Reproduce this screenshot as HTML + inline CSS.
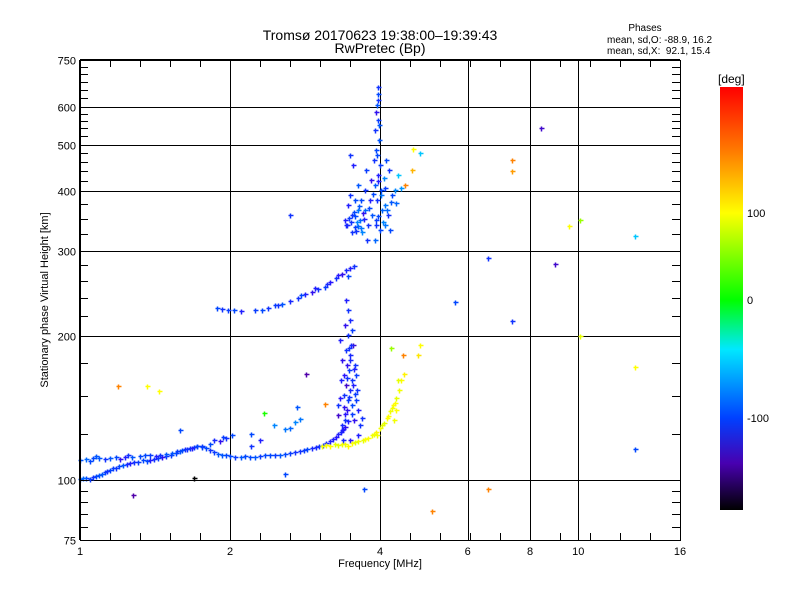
<!DOCTYPE html>
<html><head><meta charset="utf-8"><style>
body{margin:0;background:#fff;}
svg text{font-family:"Liberation Sans",sans-serif;fill:#000;}
</style></head><body>
<svg id="chart" width="800" height="600" viewBox="0 0 800 600" xmlns="http://www.w3.org/2000/svg">
<defs>
<linearGradient id="cbg" x1="0" y1="0" x2="0" y2="1">
<stop offset="0" stop-color="#ff0000"/><stop offset="0.15" stop-color="#ff7a00"/>
<stop offset="0.298" stop-color="#ffff00"/><stop offset="0.504" stop-color="#00ff00"/>
<stop offset="0.62" stop-color="#00e8ff"/><stop offset="0.783" stop-color="#0040ff"/>
<stop offset="0.89" stop-color="#4800b0"/><stop offset="1" stop-color="#000000"/>
</linearGradient>
</defs>
<rect x="0" y="0" width="800" height="600" fill="#fff"/>
<text x="380" y="40" font-size="14" text-anchor="middle">Tromsø 20170623 19:38:00–19:39:43</text>
<text x="380" y="53" font-size="14" text-anchor="middle">RwPretec (Bp)</text>
<text x="645" y="31" font-size="10" text-anchor="middle">Phases</text>
<text x="607" y="43" font-size="10">mean, sd,O: -88.9, 16.2</text>
<text x="607" y="54" font-size="10" xml:space="preserve">mean, sd,X:  92.1, 15.4</text>
<g id="grid"></g>
<g id="marks"></g>
<rect x="80.5" y="60.5" width="600" height="480" fill="none" stroke="#000" stroke-width="1"/>
<line x1="80" y1="60" x2="680" y2="60" stroke="#000" stroke-width="2"/>
<line x1="80" y1="60" x2="80" y2="540" stroke="#000" stroke-width="2"/>
<g id="ticks"></g>
<text transform="translate(48,300) rotate(-90)" font-size="11" text-anchor="middle">Stationary phase Virtual Height [km]</text>
<text x="380" y="567" font-size="11" text-anchor="middle">Frequency [MHz]</text>
<rect x="720" y="87" width="23" height="423" fill="url(#cbg)"/>
<text x="718" y="83" font-size="12">[deg]</text>
<text x="747" y="217" font-size="11">100</text>
<text x="747" y="304" font-size="11">0</text>
<text x="747" y="422" font-size="11">-100</text>
</svg>
<script>
// ---- data ----
const xTicks=[1,2,4,6,8,10,16];
const xTickLabels=["1","2","4","6","8","10","16"];
const xGrid=[2,4,6,8,10];
const yTicks=[75,100,200,300,400,500,600,750];
const yMinor=[80,85,90,95,125,150,175,220,240,260,280,325,350,375,420,440,460,480,520,540,560,580,625,650,675,700,725];
// lower trace (O)
const lowF=[1.00,1.03,1.06,1.09,1.12,1.15,1.18,1.22,1.26,1.31,1.36,1.41,1.46,1.52,1.59,1.66,1.72,1.79,1.86,1.93,2.0,2.1,2.19,2.3,2.41,2.52,2.64,2.76,2.86,2.97,3.07,3.17,3.26,3.34,3.40,3.45];
const lowH=[100.5,101,101.5,102.5,104,105,106,107.5,108.5,109,109.5,110.5,111.5,112.5,115,116.5,117.5,116.5,114.5,113,112,111.5,111.5,112,112.5,113,114,115,116,117,118.5,120.5,123,126,129,133];
const lowP=[-95,-100,-110,-95,-105,-100,-110,-95,-120,-105,-100,-110,-130,-105,-95,-110,-120,-100,-105,-95,-100,-95,-100,-105,-100,-95,-105,-110,-100,-115,-110,-120,-125,-115,-130,-120];
const low2F=[1.015,1.045,1.075,1.105,1.135,1.165,1.20,1.24,1.285,1.335,1.385,1.435,1.49,1.555,1.625,1.69,1.755,1.825,1.895,1.965,2.05,2.145,2.245,2.355,2.465,2.58,2.70,2.81,2.915,3.02,3.12,3.22,3.30,3.37];
const low2H=[101,100.5,102,103,104.5,106,107,108,109,110,110,111,112,114,116,117,117,115.5,113.5,112.5,111.5,112,111.5,112.5,113,113.5,114.5,115.5,116.5,118,119.5,122,124.5,127.5];
const low2P=[-90,-105,-100,-95,-110,-105,-100,-115,-110,-100,-120,-105,-110,-100,-115,-105,-100,-110,-95,-100,-105,-100,-95,-100,-105,-100,-110,-105,-115,-110,-115,-120,-120,-125];
// upper early trace
const upF=[1.0,1.03,1.06,1.09,1.12,1.15,1.18,1.23,1.27,1.32,1.38,1.45,1.53,1.6,1.68,1.76,1.82,1.91,1.96,2.02,2.58,2.64,2.7,2.76,2.2,2.3,1.045,1.075,1.205,1.25,1.35,1.42,1.49,1.565,1.64,1.72,1.86,1.94];
const upH=[110,110.5,111,111,110.5,111,111.5,111.5,111.5,112,112.5,113,114,115.5,116.5,117.5,119,120.5,122.5,124,127.5,128.5,132,134,118,121,109.5,112,110.5,112.5,113,112,113.5,115,116,118,121,123];
const upP=[-95,-90,-100,-95,-110,-95,-100,-120,-95,-100,-105,-110,-95,-100,-120,-105,-100,-130,-110,-100,-85,-90,-80,-85,-110,-120,-100,-95,-130,-110,-100,-120,-95,-105,-110,-100,-115,-105];
// cusp near 3.5 MHz
const cuspF=[3.35,3.40,3.44,3.45,3.48,3.42,3.51,3.39,3.47,3.56,3.35,3.48,3.42,3.53,3.32,3.45,3.51,3.40,3.48,3.45,3.42,3.29,3.58,3.61,3.55,3.64,3.37,3.48,3.30,3.60,3.58,3.34,3.44,3.50,3.39,3.51,3.61,3.68,3.36,3.41,3.46,3.53,3.57,3.38,3.43,3.49,3.55,3.33,3.47,3.52];
const cuspH=[127.1,133.4,140,146.8,154,157.7,161.6,165.5,169.5,173.5,177.8,182,186.6,191,195.8,200.5,205.4,210.4,215.5,226,237,143.3,146.8,140,133.4,130.2,121.2,121.2,136.7,154,165.5,161.6,173.5,191,150.4,143.3,124.1,134.8,130,137,149,158,151,142,163,178,170,148,188,137];
const cuspP=[-120,-110,-130,-105,-115,-140,-110,-125,-105,-110,-130,-115,-110,-140,-120,-110,-105,-130,-115,-110,-120,-110,-105,-120,-130,-110,-115,-125,-140,-110,-105,-120,-130,-115,-110,-100,-120,-110,-115,-125,-110,-120,-105,-130,-110,-115,-120,-125,-110,-105];
// spread F trace
const sfF=[1.88,1.93,1.98,2.04,2.1,2.32,2.38,2.46,2.54,2.64,2.74,2.83,2.92,3.0,3.1,3.17,3.26,3.36,3.42,3.48,3.55,3.45,2.25,2.50,2.78,2.96,3.13,3.30];
const sfH=[228,227,226,226,225,226,228,231,233,236,240,244,246,250,253,258,264,269,274,277,279,266,226,232,243,251,256,267];
const sfP=[-100,-110,-105,-100,-120,-100,-110,-105,-95,-115,-110,-120,-130,-110,-105,-125,-110,-130,-115,-120,-110,-100,-105,-110,-100,-120,-115,-125];
// vertical line at 4 MHz
const vertF=[3.97,3.97,3.95,3.93,3.97,3.91,3.98,3.93,3.89,4.0,3.97,3.91,4.02,3.95,4.04,3.93,4.0,3.96,3.99,3.94,3.97,4.01,3.96,3.92];
const vertH=[658,637,604,584,562,536,511,487,464,453,432,412,402,383,365,348,332,620,548,475,420,392,355,340];
const vertP=[-110,-100,-95,-130,-105,-110,-95,-100,-110,-105,-120,-95,-100,-110,-90,-105,-100,-110,-95,-100,-120,-85,-100,-110];
// cluster 320-480 km
const clF=[3.48,3.56,3.45,3.61,3.51,3.64,3.44,3.56,3.68,3.78,3.85,4.10,4.15,4.23,4.29,4.10,3.82,3.73,3.61,4.10,4.19,3.51,3.40,3.73,3.83,4.08,4.17,4.12,4.35,4.41,4.31,3.75,3.48,3.53,3.66,3.91,3.76,3.60,3.70,3.88,3.42,3.47,3.54,3.58,3.63,3.67,3.71,3.80,4.05,4.13,4.21,3.50,3.57,3.62];
const clH=[392,383,374,365,356,348,340,336,328,340,356,374,356,392,402,406,383,402,412,340,332,328,348,365,421.7,426,442.5,464,432,406,377,442.5,475,453,383,316,316,345,360,395,340,352,362,330,372,335,350,368,345,365,380,345,355,338];
const clP=[-110,-100,-120,-85,-110,-90,-115,-105,-80,-110,-95,-85,-110,-100,-80,-105,-120,-110,-95,-85,-100,-110,-120,-90,-130,-80,-110,-100,-60,-75,-90,-105,-110,-120,-100,-90,-110,-80,-130,-100,-115,-105,-100,-110,-95,-85,-120,-100,-80,-90,-95,-110,-100,-90];
// yellow X trace
const yelF=[3.06,3.17,3.29,3.40,3.51,3.61,3.70,3.78,3.85,3.93,4.0,4.08,4.13,4.19,4.25,4.31,4.37,4.41,4.47,4.35,4.27,4.31,3.25,3.45,3.95,3.12,3.35,3.56,3.74,3.89,4.04,4.16,4.22,4.29];
const yelH=[117.8,117.8,118.4,118.9,119.5,120.6,121.2,122.4,124.1,126,128.3,131.4,134.8,139.3,143.3,148.3,154,161.6,166.5,161.6,133.4,140,118.9,118,124,118.5,119,120,121.8,125,130,136,141,145];
const yelP=[95,100,90,95,100,95,90,100,95,105,95,90,100,95,100,90,95,100,105,90,95,100,90,100,95,100,95,90,100,95,90,100,95,100];
// scattered outliers
const scF=[8.4,7.35,7.35,9.6,10.1,13,6.6,9.0,5.66,7.35,10.1,13,13,6.6,5.08,1.28,1.69,1.36,1.44,1.19,2.64,2.58,3.71,2.34,2.73,2.84,3.1,1.59,4.66,4.5,4.63,4.82,4.82,4.77,4.45,4.2,2.2,2.45];
const scH=[540,464,440,338,348,323,290,282,235,214,200,172,116,96,86,93,101,157,153,157,357,103,96,138,142,166,144,127,490,412,442,480,191,182,182,188,125,130];
const scP=[-140,150,140,100,60,-60,-110,-140,-100,-110,90,100,-100,150,150,-150,-190,100,100,150,-110,-100,-100,10,-95,-150,150,-100,100,150,130,-60,100,110,150,60,-100,-80];

// ---- scales ----
const X0=80,X1=680,Y0=540,Y1=60;
function xs(f){return X0+(X1-X0)*Math.log2(f)/4;}
function ys(h){return Y0-(Y0-Y1)*Math.log10(h/75);}
const cStops=[[-190,[0,0,0]],[-150,[80,0,170]],[-125,[40,20,255]],[-100,[0,70,255]],[-75,[0,150,255]],[-50,[0,230,255]],[0,[0,255,0]],[100,[255,255,0]],[150,[255,130,0]],[223,[255,0,0]]];
function col(p){
  if(p<=cStops[0][0])return "rgb(0,0,0)";
  for(let i=1;i<cStops.length;i++){
    if(p<=cStops[i][0]){const a=cStops[i-1],b=cStops[i];const t=(p-a[0])/(b[0]-a[0]);
      const c=a[1].map((v,k)=>Math.round(v+(b[1][k]-v)*t));return `rgb(${c[0]},${c[1]},${c[2]})`;}
  }
  return "rgb(255,0,0)";
}
const NS="http://www.w3.org/2000/svg";
const grid=document.getElementById('grid'),ticks=document.getElementById('ticks'),marks=document.getElementById('marks');
function line(par,x1,y1,x2,y2){const l=document.createElementNS(NS,'line');l.setAttribute('x1',x1);l.setAttribute('y1',y1);l.setAttribute('x2',x2);l.setAttribute('y2',y2);l.setAttribute('stroke','#000');l.setAttribute('stroke-width','1');par.appendChild(l);return l;}
function txt(par,x,y,s,anchor){const t=document.createElementNS(NS,'text');t.setAttribute('x',x);t.setAttribute('y',y);t.setAttribute('font-size','11');t.setAttribute('text-anchor',anchor);t.textContent=s;par.appendChild(t);return t;}
xGrid.forEach(f=>{const x=Math.round(xs(f))+0.5;const l=line(grid,x,Y1,x,Y0);

});
[100,200,300,400,500,600].forEach(h=>{const y=Math.round(ys(h))+0.5;const l=line(grid,X0,y,X1,y);

});
xTicks.forEach((f,i)=>{const x=xs(f);const t=txt(ticks,x,555,xTickLabels[i],'middle');

});
// minor x ticks: 5 per octave
for(let k=1;k<20;k++){const x=Math.round(X0+30*k)+0.5;line(ticks,x,Y0,x,Y0-7);line(ticks,x,Y1,x,Y1+7);}
yTicks.forEach(h=>{const y=Math.round(ys(h))+0.5;line(ticks,X0,y,X0+8,y);line(ticks,X1-8,y,X1,y);const t=txt(ticks,76,y+4,String(h),'end');

});
yMinor.forEach(h=>{const y=Math.round(ys(h))+0.5;line(ticks,X0,y,X0+8,y);line(ticks,X1-8,y,X1,y);});
function drawGroup(F,H,P,name){
  for(let i=0;i<F.length;i++){
    const x=Math.round(xs(F[i]))+0.5,y=Math.round(ys(H[i]))+0.5;
    const p=document.createElementNS(NS,'path');
    p.setAttribute('d',`M${x-2} ${y}h5M${x} ${y-2}v5`);
    p.setAttribute('stroke',col(P[i]));p.setAttribute('stroke-width','1.5');p.setAttribute('fill','none');
    
    
    marks.appendChild(p);
  }
}
drawGroup(lowF,lowH,lowP,'lower-trace-point');
drawGroup(low2F,low2H,low2P,'lower-trace-point');
drawGroup(upF,upH,upP,'upper-trace-point');
drawGroup(sfF,sfH,sfP,'spread-f-point');
drawGroup(cuspF,cuspH,cuspP,'cusp-point');
drawGroup(vertF,vertH,vertP,'vertical-trace-point');
drawGroup(clF,clH,clP,'cluster-point');
drawGroup(yelF,yelH,yelP,'x-trace-point');
drawGroup(scF,scH,scP,'scatter-point');
</script>
</body></html>
